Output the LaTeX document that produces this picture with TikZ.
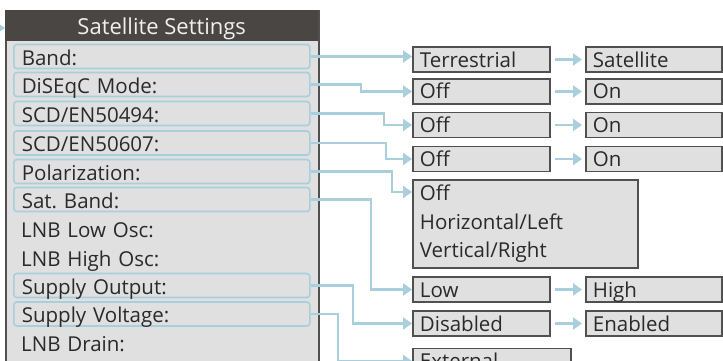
\documentclass[tikz,border=0pt]{standalone}
\usepackage{fontspec}
\setmainfont{Open Sans}
\usepackage{tikz}
\usetikzlibrary{positioning,arrows.meta}
\definecolor{panelbg}{HTML}{E0E0E0}
\definecolor{panelline}{HTML}{505050}
\definecolor{headbg}{HTML}{4A4644}
\definecolor{headfg}{HTML}{F0F0F0}
\definecolor{linkc}{HTML}{A8CFDB}
\definecolor{textfg}{HTML}{2A2A2A}

\begin{document}
\begin{tikzpicture}[
        x=1pt, y=-1pt,
        panel/.style={
            rectangle,
            draw=panelline,
            line width=2pt,
            fill=panelbg,
            anchor=north west,
            minimum width=313pt,
            minimum height=370pt
        },
        header/.style={
            rectangle,
            fill=headbg,
            text=headfg,
            anchor=north west,
            font=\fontsize{22}{24}\selectfont,
            minimum width=313pt,
            minimum height=31pt,
            inner sep=0pt,
            text height=17.6pt,
            text depth=0pt
        },
        row/.style={
            rectangle,
            rounded corners=3pt,
            anchor=west,
            text=textfg,
            font=\fontsize{20.5}{24}\selectfont,
            minimum width=296pt,
            minimum height=24pt,
            text width=280pt,
            inner xsep=8pt,
            inner ysep=0pt,
            text height=17.6pt,
            text depth=0pt
        },
        hrow/.style={
            row,
            draw=linkc,
            line width=1.6pt
        },
        option/.style={
            rectangle,
            draw=panelline,
            line width=1.8pt,
            fill=panelbg,
            anchor=west,
            text=textfg,
            font=\fontsize{20.5}{28.5}\selectfont,
            minimum height=25pt,
            text width=#1,
            inner xsep=7pt,
            inner ysep=0pt,
            text height=15pt,
            text depth=0pt
        },
        option/.default=123pt,
        link/.style={
            draw=linkc,
            line width=2.2pt,
            -{Triangle[length=9pt,width=12pt]}
        }
    ]
        \useasboundingbox (0,0) rectangle (723,361);
        \clip (0,0) rectangle (723,361);

        % Settings panel
        \node[panel] (panel) at (5,10) {};
        \node[header] (head) at (panel.north west) {Satellite Settings};
        \coordinate (feed) at (-14,28);
        \draw[link] (feed) -- (feed -| panel.west);

        % Menu rows
        \node[hrow] (band) at (13,56.5) {Band:};
        \node[hrow] (diseqc) at (13,84.5) {DiSEqC Mode:};
        \node[hrow] (scda) at (13,113.5) {SCD/EN50494:};
        \node[hrow] (scdb) at (13,143) {SCD/EN50607:};
        \node[hrow] (polar) at (13,171.5) {Polarization:};
        \node[hrow] (satband) at (13,199.5) {Sat.\ Band:};
        \node[row] (lnblow) at (13,229) {LNB Low Osc:};
        \node[row] (lnbhigh) at (13,257.5) {LNB High Osc:};
        \node[hrow] (supout) at (13,285.5) {Supply Output:};
        \node[hrow] (supvolt) at (13,314) {Supply Voltage:};
        \node[row] (drain) at (13,343) {LNB Drain:};

        % Choices
        \node[option] (terr) at (412,59.5) {Terrestrial};
        \node[option=122pt] (sat) at (585,59.5) {Satellite};
        \node[option] (offa) at (412,91.5) {Off};
        \node[option=122pt] (ona) at (585,91.5) {On};
        \node[option] (offb) at (412,125) {Off};
        \node[option=122pt] (onb) at (585,125) {On};
        \node[option] (offc) at (412,159) {Off};
        \node[option=122pt] (onc) at (585,159) {On};
        \node[option=211pt, anchor=north west, minimum height=88pt, text height=, text depth=, align=left] (pol) at (412,179)
            {Off\\Horizontal/Left\\Vertical/Right};
        \node[option] (low) at (412,289.5) {Low};
        \node[option=122pt] (high) at (585,289.5) {High};
        \node[option] (dis) at (412,323.5) {Disabled};
        \node[option=122pt] (ena) at (585,323.5) {Enabled};
        \node[option=144pt] (ext) at (412,361) {External};

        % Row links
        \draw[link] (band.east) -- (band.east -| terr.west);
        \draw[link] (diseqc.east) -- ++(50,0) |- (offa.west);
        \draw[link] (scda.east) -- ++(73,0) |- (offb.west);
        \draw[link] (scdb.east) -- ++(75,0) |- (offc.west);
        \draw[link] (polar.east) -- ++(81,0) |- ([yshift=-13pt]pol.north west);
        \draw[link] (satband.east) -- ++(60,0) |- (low.west);
        \draw[link] (supout.east) -- ++(42,0) |- (dis.west);
        \draw[link] (supvolt.east) -- ++(27,0) |- (ext.west);

        % Next values
        \draw[link, shorten <=4pt, shorten >=3pt] (terr.east) -- (sat.west);
        \draw[link, shorten <=4pt, shorten >=3pt] (offa.east) -- (ona.west);
        \draw[link, shorten <=4pt, shorten >=3pt] (offb.east) -- (onb.west);
        \draw[link, shorten <=4pt, shorten >=3pt] (offc.east) -- (onc.west);
        \draw[link, shorten <=4pt, shorten >=3pt] (low.east) -- (high.west);
        \draw[link, shorten <=4pt, shorten >=3pt] (dis.east) -- (ena.west);
    \end{tikzpicture}
\end{document}
